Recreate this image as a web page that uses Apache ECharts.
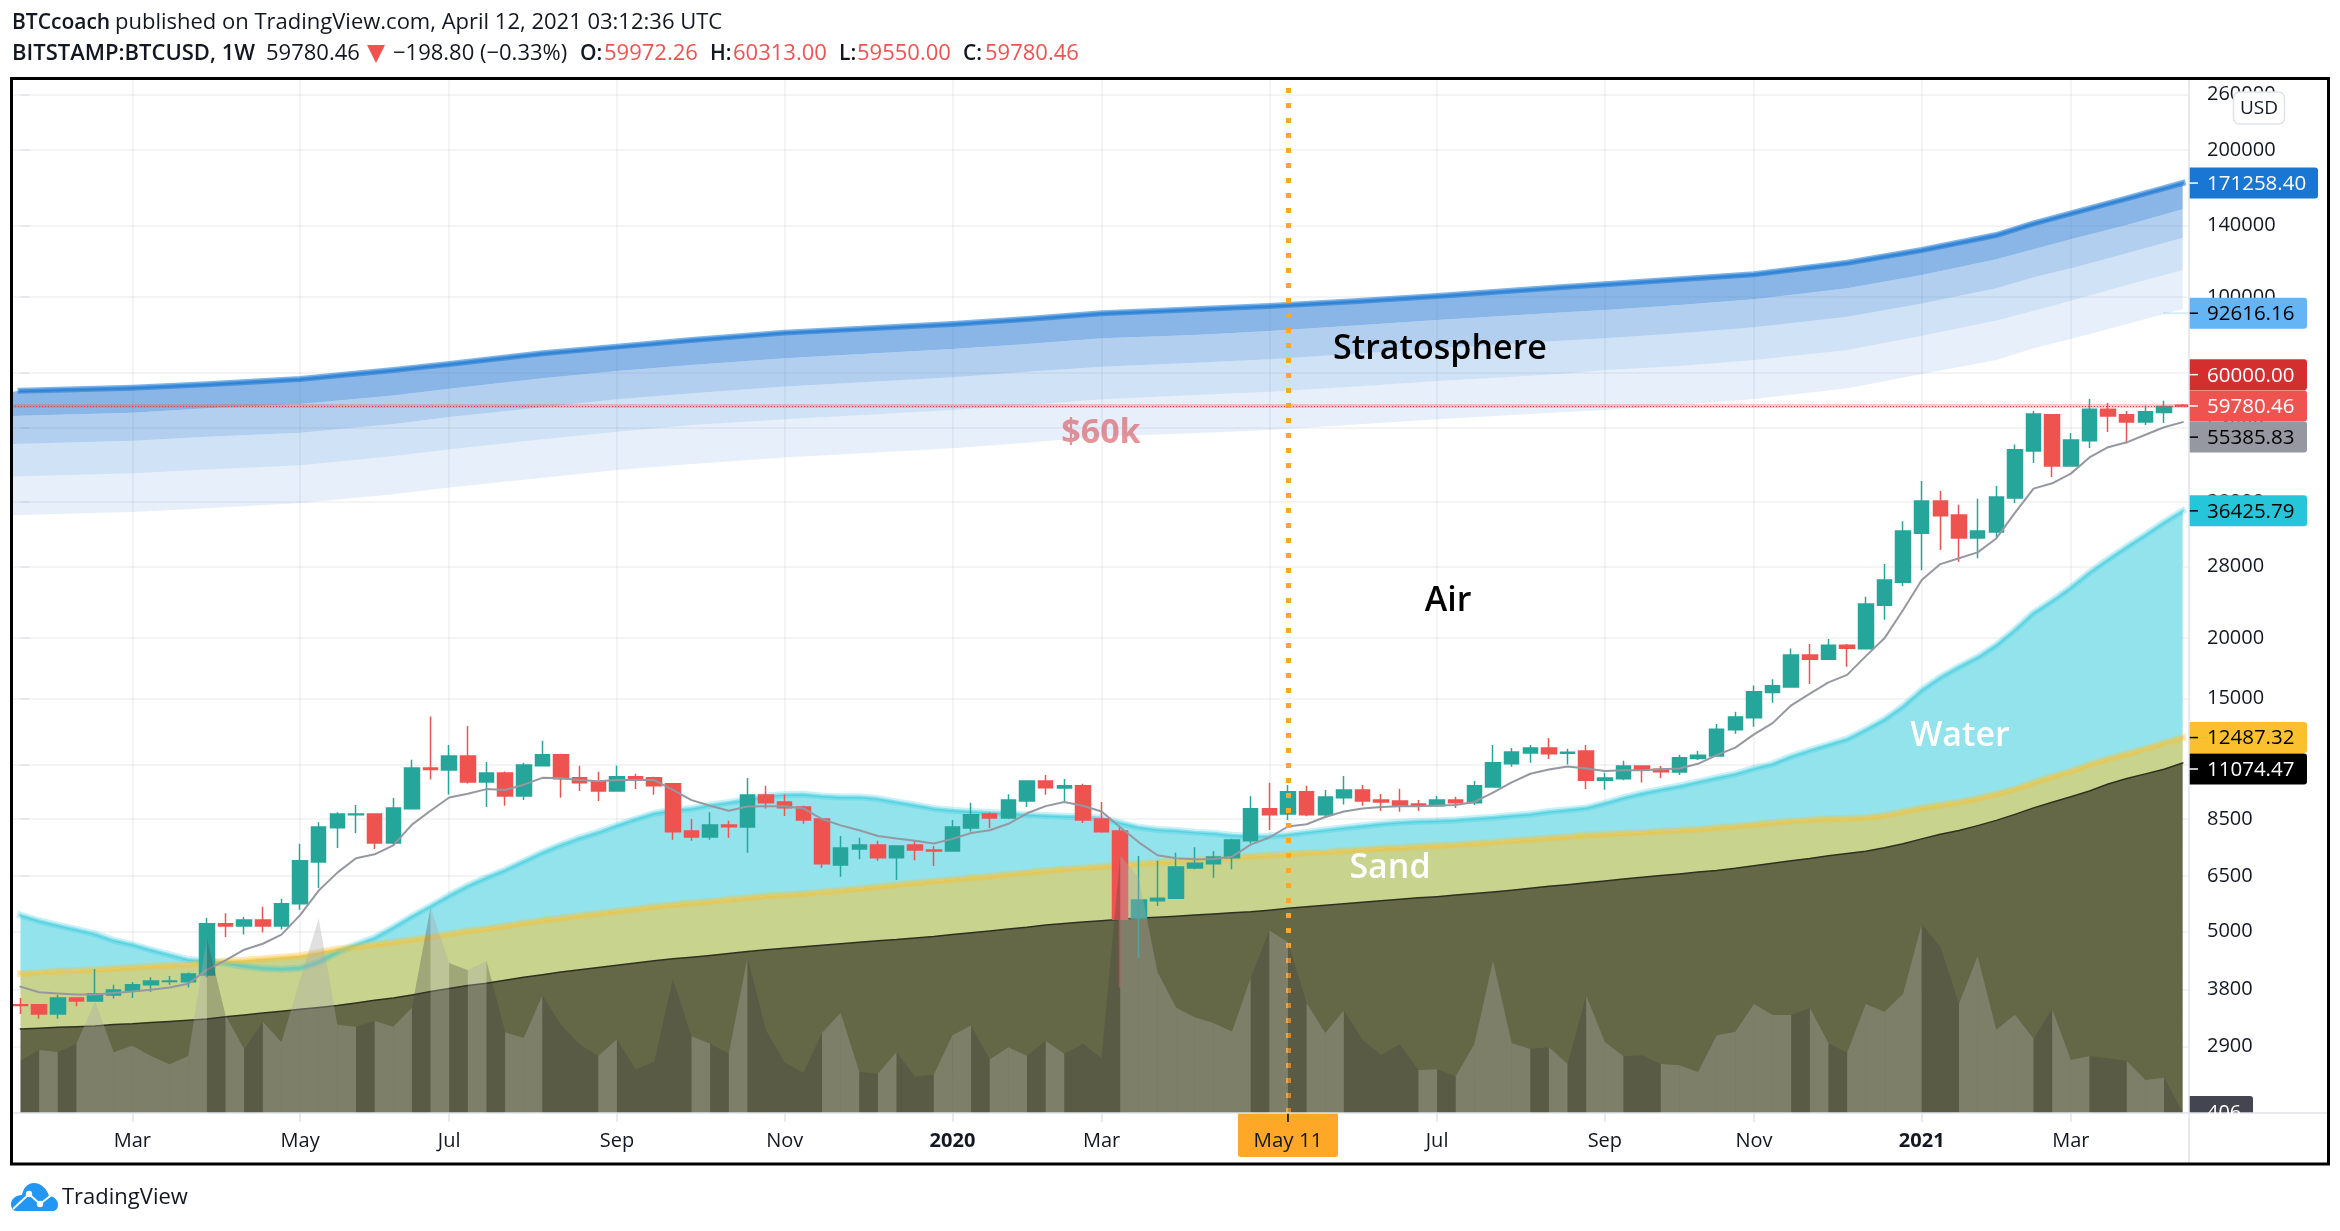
<!DOCTYPE html>
<html><head><meta charset="utf-8"><style>html,body{margin:0;padding:0;background:#fff}#c{width:2340px;height:1231px}</style>
<script src="https://cdn.jsdelivr.net/npm/echarts@6/dist/echarts.min.js"></script></head>
<body><div id="c"></div><script>
// Weekly candles: [open, close, low, high]
const candles=[
[3537,3525,3387,3650],[3537,3387,3310,3537],[3387,3650,3310,3703],[3650,3599,3512,3650],[3599,3723,3599,4187],[3703,3790,3640,3886],[3770,3886,3650,3935],[3886,3955,3756,4026],[3948,3955,3886,4050],[3941,4090,3838,4120],
[4070,5183,4026,5325],[5183,5128,4871,5448],[5128,5277,4925,5352],[5277,5128,4976,5617],[5128,5697,5047,5832],[5697,6980,5535,7560],[6940,8190,6140,8370],[8160,8700,7415,8780],[8670,8700,7960,9080],[8700,7590,7375,8733],
[7590,8955,7480,9390],[8920,10812,8905,11240],[10812,10735,10250,13790],[10720,11450,9545,12050],[11450,10120,10050,13195],[10120,10565,9000,11125],[10565,9478,9049,10640],[9478,10965,9295,11085],[10930,11510,10930,12295],[11510,10285,9395,11570],
[10325,10085,9700,10930],[10140,9700,9260,10620],[9700,10380,9700,10930],[10380,10215,9800,10530],[10325,9945,9530,10380],[10035,8005,7710,10035],[8030,7805,7670,8500],[7805,8260,7710,8780],[8260,8200,7780,8427],[8190,9525,7245,10320],
[9525,9180,8935,9945],[9213,8970,8625,9547],[9000,8460,8310,9049],[8500,6880,6745,8500],[6840,7415,6475,7848],[7375,7520,7030,7780],[7520,7080,6978,7670],[7080,7480,6370,7510],[7520,7345,7000,7670],[7345,7309,6806,7480],
[7309,8190,7309,8457],[8145,8670,8010,9178],[8700,8545,8145,8780],[8545,9295,8500,9560],[9260,10175,9000,10175],[10175,9855,9530,10470],[9840,9945,9245,10270],[9945,8457,8340,10035],[8500,8005,7965,9213],[8030,5295,3838,8175],
[5324,5800,4410,7140],[5780,5850,5635,6978],[5850,6780,5835,7245],[6745,6900,6705,7440],[6880,7105,6440,7309],[7080,7695,6705,7740],[7669,8920,7574,9470],[8920,8670,8075,10085],[8700,9665,8457,9980],[9665,8670,8610,9945],
[8670,9427,8545,9750],[9393,9750,9098,10415],[9750,9260,9049,9980],[9295,9213,8825,9565],[9260,9049,8795,9805],[9130,9049,8825,9295],[9049,9295,9049,9480],[9295,9180,8950,9445],[9180,9945,9080,10175],[9890,11085,9890,12050],
[11030,11670,10885,11880],[11610,11880,11085,12050],[11880,11570,11290,12467],[11593,11655,10990,11845],[11725,10205,9795,12055],[10205,10315,9760,10575],[10280,10915,10205,11190],[10915,10720,10095,10950],[10755,10630,10315,10915],[10610,11350,10465,11510],
[11310,11490,11235,11725],[11450,12995,11430,13320],[12950,13755,12720,14100],[13705,15500,13135,15975],[15440,15940,14720,16455],[15860,18450,15800,19020],[18450,18085,16080,19425],[18085,19320,18020,19880],[19320,19045,17455,19425],[19000,23460,18920,24270],
[23335,26290,21770,28330],[26010,33135,25530,34700],[32780,38140,27530,41950],[38140,35580,30290,40010],[35705,32030,28635,37500],[32030,33135,29130,38550],[32950,38895,32200,40950],[38695,48600,37800,49810],[48330,57530,45645,58355],[57330,45000,42720,57530],
[45000,50880,45000,52640],[50700,58880,49020,61750],[58880,57025,52830,60580],[57330,55415,50080,58355],[55415,58150,54630,59900],[57925,59630,55130,61260],[59972.26,59780.46,59550,60313]];
// Thin moving average
const sma=[3851,3750,3730,3710,3710,3736,3763,3797,3838,3906,4172,4362,4585,4717,4925,5400,6063,6600,7065,7195,7505,8280,8840,9410,9580,9790,9750,9997,10325,10305,10215,10160,10215,10215,10215,9750,9295,9049,8840,9017,9033,
9033,8937,8500,8250,8060,7848,7750,7670,7574,7740,7960,8060,8310,8733,9033,9213,9049,8810,8175,7615,7165,7065,7030,7040,7115,7530,7790,8205,8295,8580,8810,8937,9000,9033,9033,9065,9080,9213,9630,10105,10525,10735,
10890,10795,10665,10700,10700,10755,10795,11030,11490,11910,12675,13370,14540,15360,16200,16790,18345,19950,22800,26290,28330,29130,29940,31975,36090,40450,41480,43425,46880,49200,50345,52170,54050,55385.83];
// "Water" curve
const water=[5400,5258,5147,5047,4941,4794,4700,4585,4480,4377,4346,4300,4240,4195,4180,4202,4323,4535,4700,4855,5100,5370,5637,5925,6205,6450,6685,6965,7260,7530,7775,7990,8250,8500,8733,8860,8937,9080,9195,9325,9478,
9545,9560,9478,9427,9427,9360,9213,9080,8937,8860,8810,8765,8733,8670,8640,8610,8595,8545,8350,8175,8090,8050,7990,7950,7875,7835,7848,7905,7990,8075,8160,8235,8310,8370,8415,8427,8457,8520,8570,8640,8700,8810,
8880,8960,9165,9400,9600,9775,9935,10130,10330,10520,10795,11030,11430,11765,12080,12405,12970,13610,14485,15635,16610,17455,18250,19325,20785,22520,23835,25370,27240,28990,30745,32550,34520,36425.79];
// "Sand" curve
const sand=[4098,4120,4142,4157,4172,4195,4217,4240,4263,4277,4308,4346,4362,4393,4425,4456,4528,4601,4642,4700,4751,4808,4868,4941,5010,5065,5128,5200,5268,5324,5382,5440,5497,5555,5617,5670,5717,5758,5810,5860,5912,
5935,5970,6025,6065,6117,6175,6228,6283,6339,6385,6440,6487,6545,6603,6660,6710,6745,6795,6840,6880,6930,6965,7003,7040,7080,7130,7165,7205,7245,7270,7320,7360,7400,7425,7470,7505,7530,7574,7615,7670,7720,7770,
7820,7870,7910,7950,7980,8025,8065,8100,8155,8215,8270,8360,8420,8465,8510,8525,8555,8645,8800,8960,9085,9200,9365,9565,9790,10095,10385,10650,10990,11290,11555,11845,12170,12487.32];
// Lowest curve
const ground=[3155,3166,3178,3189,3200,3223,3234,3252,3269,3287,3305,3340,3370,3400,3430,3461,3492,3523,3567,3612,3650,3703,3763,3817,3872,3913,3970,4026,4076,4127,4172,4217,4263,4308,4354,4393,4425,4464,4504,4545,4585,
4618,4651,4685,4717,4751,4785,4810,4845,4880,4925,4968,5010,5056,5100,5155,5190,5228,5258,5295,5324,5343,5370,5400,5430,5460,5487,5527,5577,5617,5657,5697,5738,5780,5820,5860,5892,5935,5977,6025,6075,6130,6185,
6235,6290,6345,6400,6455,6510,6560,6620,6665,6735,6820,6895,6980,7055,7145,7220,7300,7420,7565,7740,7910,8050,8240,8445,8690,8960,9200,9445,9700,10025,10295,10520,10755,11074.47];
// Volume, thousands
const volume=[31.4,37.8,36.6,41.6,67,36.4,40.3,34.2,29.2,34.2,105,58.6,38.2,54.7,42.5,80.1,116.7,52.9,51.8,55.2,51.8,63.1,123.5,90,85.7,91.4,48.4,45,70.6,52.9,41.2,34.2,44.3,26.2,30.8,80.5,46.1,41.6,35.5,93.6,49.5,
30.3,24,48,60.2,24.7,23.5,36.6,21.7,23.1,46.6,52.5,32.1,39.4,34.4,43.2,35.5,41.6,33,154.7,141,84.6,63.1,57.5,54,48.9,81.2,109.5,102.7,66,48,61.5,43.9,34.8,41.2,25.8,26.2,
22,41.4,91.4,42,38.4,39.4,29.4,70.4,42.6,34,34.6,29.4,28.6,24.6,46.6,48.8,65.4,58.8,58.8,63,41.8,36.2,65.4,60.8,71.4,113.4,99.8,65.4,94.2,50,59,44.6,62.4,31.8,34.2,32.8,31.2,19.8,21.2,0.406];
// Stratosphere bands, sampled at these bar positions
const bandPos=[-0.456,0,6,10,15,20,23,28,32,36,41,50,54,58,63,67,72,76,82.6,85,89,93,98,102,106,108,110,113,116];
const band0=[63960,64260,65170,66210,67900,70850,72890,76650,79100,81630,84510,88025,90140,92580,94340,95840,98280,100470,104670,106150,108680,111280,117580,124830,133990,141590,148430,159330,171258.4];
const band1=[57010,57100,57920,59120,60340,62780,64870,68120,70510,72540,74870,78230,80100,82280,83570,85160,87620,89700,92880,94050,96290,98900,104180,110940,119440,125230,131280,140480,151260];
const band2=[49960,50030,50740,51710,52700,54900,56740,59400,61690,63460,65490,68440,70290,71970,73340,74500,76650,78470,81370,82270,84230,86640,91140,97020,104180,109730,114470,122900,132320];
const band3=[42820,42900,43500,44260,45170,47210,48720,51070,52950,54640,56130,58660,60060,61680,62950,63960,65690,67270,69520,70830,72180,74270,77840,83310,89440,93740,98280,105820,113610];
const band4=[35680,35740,36240,36870,37810,39400,40650,42610,44180,45460,46840,48935,50270,51720,52540,53370,54900,56130,58010,58650,60140,61780,64970,69500,74270,78460,81990,88020,94490];
const priceTicks=[260000,200000,140000,100000,70000,54000,38000,28000,20000,15000,11000,8500,6500,5000,3800,2900];
const timeTickPos=[6,15,23,32,41,50,58,67,76,85,93,102,110];
const timeTickText=['Mar','May','Jul','Sep','Nov','2020','Mar','May','Jul','Sep','Nov','2021','Mar'];
const cursorPos=68, cursorText='May 11';
const lastClose=59780.46, level=60000;
// Price tags: value, text, background, text colour, shift from the true level
const tagValues=[171258.40,92616.16,60000,59780.46,55385.83,36425.79,12487.32,11074.47];
const tagTexts=['171258.40','92616.16','60000.00','59780.46','55385.83','36425.79','12487.32','11074.47'];
const tagBack=['#1976d2','#64b5f6','#d32f2f','#ef5350','#9598a1','#26c6da','#fbc02d','#000000'];
const tagFore=['#ffffff','#000000','#ffffff','#ffffff','#000000','#000000','#000000','#ffffff'];
const tagShift=[0,0,-30.5,0,15,0,0,6];

const FONT='"Open Sans","Noto Sans",sans-serif';
const INK='#131722';
const n=candles.length;
const pairs=(xs,ys)=>xs.map((x,i)=>[x,ys[i]]);
const idx=candles.map((_,i)=>i);

function fillBetween(xs,upper,lower,color,z){
  return {type:'custom',coordinateSystem:'cartesian2d',clip:true,z,silent:true,animation:false,
    data:[[xs[0],upper[0]]],encode:{x:0,y:1},
    renderItem(p,api){
      const pts=[];
      xs.forEach((x,i)=>pts.push(api.coord([x,upper[i]])));
      for(let i=xs.length-1;i>=0;i--)pts.push(api.coord([xs[i],lower[i]]));
      return {type:'polygon',shape:{points:pts},style:{fill:color}};
    }};
}
function lineOf(xs,ys,width,color,z){
  return {type:'line',data:pairs(xs,ys),showSymbol:false,symbol:'none',smooth:false,z,silent:true,animation:false,clip:true,
    lineStyle:{width,color,cap:'square',join:'round'}};
}
const idxFloor=idx.map(()=>2121);
const waterTop=water.map((v,i)=>Math.max(v,sand[i]));
const series=[
  fillBetween(bandPos,band0,band1,'rgba(33,118,210,0.53)',1),
  fillBetween(bandPos,band1,band2,'rgba(33,118,210,0.35)',1),
  fillBetween(bandPos,band2,band3,'rgba(33,118,210,0.21)',1),
  fillBetween(bandPos,band3,band4,'rgba(33,118,210,0.115)',1),
  fillBetween(idx,waterTop,sand,'#92e3ec',1),
  fillBetween(idx,sand,ground,'#c8d38d',1),
  fillBetween(idx,ground,idxFloor,'#646846',1),
  lineOf(bandPos.slice(1),band0.slice(1),6,'rgba(25,118,210,0.55)',2),
  lineOf(bandPos.slice(1),band0.slice(1),3,'rgba(25,118,210,0.6)',2),
  lineOf([115,116.3],[92616.16,92616.16],2,'rgba(100,181,246,0.25)',2),
  lineOf(idx,water,7,'rgba(38,198,218,0.25)',2),
  lineOf(idx,water,3,'rgba(38,198,218,0.4)',2),
  lineOf(idx,sand,7,'rgba(251,192,45,0.35)',2),
  lineOf(idx,sand,3,'rgba(251,192,45,0.4)',2),
  lineOf(idx,ground,1.5,'#2e3120',2),
  {type:'candlestick',data:candles.map((c,i)=>[i,c[0],c[1],c[2],c[3]]),encode:{x:0,y:[1,2,3,4]},barWidth:15,z:3,animation:false,silent:true,clip:true,
    itemStyle:{color:'#26a69a',color0:'#ef5350',borderColor:'#26a69a',borderColor0:'#ef5350',borderWidth:1.5}},
  lineOf(idx,sma,2,'#9598a1',4),
  {type:'custom',coordinateSystem:'cartesian2d',yAxisIndex:1,clip:true,z:5,silent:true,animation:false,
    data:idx.slice(0,n-1).map(i=>[i,volume[i]]),encode:{x:0,y:1},
    renderItem(p,api){
      const i=p.dataIndex, up=candles[i+1][1]>=candles[i+1][0];
      const a=api.coord([i,volume[i]]),b=api.coord([i+1,volume[i+1]]),c=api.coord([i+1,0]),d=api.coord([i,0]);
      return {type:'polygon',shape:{points:[a,b,c,d]},style:{fill:up?'rgba(170,170,170,0.36)':'rgba(67,64,70,0.3)'}};
    }},
  {type:'line',data:[],z:6,silent:true,animation:false,
    markLine:{silent:true,symbol:'none',animation:false,label:{show:false},data:[{yAxis:lastClose}],lineStyle:{type:'solid',width:4,color:'rgba(239,83,80,0.3)'}}},
  {type:'line',data:[],z:6,silent:true,animation:false,
    markLine:{silent:true,symbol:'none',animation:false,label:{show:false},data:[{yAxis:lastClose}],lineStyle:{type:[1,2],width:1,color:'#ef3b38'}}},
  {type:'line',data:[],z:7,silent:true,animation:false,
    markLine:{silent:true,symbol:'none',animation:false,label:{show:false},data:[{xAxis:cursorPos}],lineStyle:{type:[5,10],width:5,color:'#ffa726'}}},
  // price tags in the right hand scale
  {type:'custom',coordinateSystem:'cartesian2d',clip:false,z:10,silent:true,animation:false,
    data:tagValues.map(v=>[116,v]),encode:{x:0,y:1},
    renderItem(p,api){
      const i=p.dataIndex, y=api.coord([116,tagValues[i]])[1]+tagShift[i], w=tagTexts[i].length>8?129:118;
      return {type:'group',children:[
        {type:'rect',shape:{x:2189,y:y-15.5,width:w,height:31,r:[0,3,3,0]},style:{fill:tagBack[i]}},
        {type:'rect',shape:{x:2189,y:y-0.75,width:9,height:1.5},style:{fill:tagFore[i]}},
        {type:'text',style:{x:2207,y:y+1,text:tagTexts[i],fill:tagFore[i],font:'20.5px '+FONT,textAlign:'left',textVerticalAlign:'middle'}}
      ]};
    }},
  // time cursor tag
  {type:'custom',coordinateSystem:'cartesian2d',clip:false,z:10,silent:true,animation:false,
    data:[[cursorPos,2121]],encode:{x:0,y:1},
    renderItem(p,api){
      const c=api.coord([cursorPos,2121]);
      return {type:'group',children:[
        {type:'rect',shape:{x:c[0]-50,y:c[1],width:100,height:44,r:[0,0,3,3]},style:{fill:'#ffa726'}},
        {type:'rect',shape:{x:c[0]-0.75,y:c[1],width:1.5,height:9},style:{fill:'#000'}},
        {type:'text',style:{x:c[0],y:c[1]+28,text:cursorText,fill:INK,font:'20.5px '+FONT,textAlign:'center',textVerticalAlign:'middle'}}
      ]};
    }},
  // brand mark
  {type:'custom',coordinateSystem:'cartesian2d',clip:false,z:10,silent:true,animation:false,
    data:[[0,2121]],encode:{x:0,y:1},
    renderItem(){
      return {type:'group',children:[
        {type:'path',shape:{pathData:'M5 28 L42 28 C47 28 48 21 46 18 C44 14 40 13 38 13 C36 6 30 0 23 0 C16 0 12 6 11 12 C5 12 0 16 0 21 C0 25 2 28 5 28 Z',x:11,y:1183,width:47,height:28},style:{fill:'#2196f3'}},
        {type:'polyline',shape:{points:[[13,1209],[29,1194],[40,1204],[54,1193]]},style:{stroke:'#fff',lineWidth:2,fill:'none'}},
        {type:'circle',shape:{cx:29,cy:1194,r:3.2},style:{fill:'#fff'}},
        {type:'circle',shape:{cx:40,cy:1204,r:3.2},style:{fill:'#fff'}}
      ]};
    }}
];
const T=(x,y,text,o={},z=100)=>({type:'text',x,y,z,silent:true,style:Object.assign({text,fill:INK,font:'22px '+FONT,textVerticalAlign:'middle',textAlign:'left'},o)});
const RED='#ef5350';
const chart=echarts.init(document.getElementById('c'),null,{renderer:'canvas',width:2340,height:1231});
chart.setOption({
  animation:false,backgroundColor:'#fff',
  grid:{left:12,right:151,top:80,bottom:118,containLabel:false},
  xAxis:{type:'value',min:-0.456,max:116.34,axisLine:{show:false},
    axisTick:{show:true,length:9,customValues:timeTickPos,lineStyle:{color:'#e0e3eb',width:1.5}},
    splitLine:{show:true,lineStyle:{color:'rgba(42,46,57,0.07)',width:1.5}},
    axisLabel:{show:true,customValues:timeTickPos,margin:18,fontFamily:FONT,fontSize:20,color:INK,hideOverlap:false,showMinLabel:true,showMaxLabel:true,
      formatter:v=>{const t=timeTickText[timeTickPos.indexOf(Math.round(v))]||'';return /^\d+$/.test(t)?'{b|'+t+'}':t;},
      rich:{b:{fontFamily:FONT,fontSize:20,fontWeight:'bold',color:INK}}}},
  yAxis:[{type:'log',logBase:10,min:2121,max:278600,position:'right',axisLine:{show:false},
    axisTick:{show:true,length:9,customValues:priceTicks,lineStyle:{color:'#e0e3eb',width:1.5}},
    splitLine:{show:true,lineStyle:{color:'rgba(42,46,57,0.07)',width:1.5}},minorTick:{show:false},
    axisLabel:{show:true,customValues:priceTicks,margin:18,fontFamily:FONT,fontSize:20,color:INK,hideOverlap:false,padding:[3,0,0,0],formatter:v=>String(Math.round(v))}},
    {type:'value',min:0,max:620,show:false,splitLine:{show:false}}],
  series,
  graphic:[
    T(12,23,'BTCcoach',{font:'600 21px '+FONT}),T(115,23,'published on TradingView.com, April 12, 2021 03:12:36 UTC'),
    T(12,54,'BITSTAMP:BTCUSD, 1W',{font:'600 22px '+FONT}),T(266,54,'59780.46'),
    {type:'polygon',z:100,silent:true,shape:{points:[[367,45],[385,45],[376,63]]},style:{fill:RED}},
    T(393,54,'\u2212198.80 (\u22120.33%)'),
    T(580,54,'O:',{font:'600 21px '+FONT}),T(604,54,'59972.26',{fill:RED}),
    T(710,54,'H:',{font:'600 21px '+FONT}),T(733,54,'60313.00',{fill:RED}),
    T(839,54,'L:',{font:'600 21px '+FONT}),T(857,54,'59550.00',{fill:RED}),
    T(963,54,'C:',{font:'600 21px '+FONT}),T(985,54,'59780.46',{fill:RED}),
    T(1440,349,'Stratosphere',{font:'600 34px '+FONT,textAlign:'center',fill:'#000'}),
    T(1101,433,'$60k',{font:'bold 34px '+FONT,textAlign:'center',fill:'rgba(216,90,100,0.65)'}),
    T(1448,601,'Air',{font:'600 34px '+FONT,textAlign:'center',fill:'#000'}),
    T(1960,736,'Water',{font:'600 34px '+FONT,textAlign:'center',fill:'#fff'}),
    T(1390,868,'Sand',{font:'600 34px '+FONT,textAlign:'center',fill:'#fff'}),
    {type:'line',z:99,silent:true,shape:{x1:12,y1:1113,x2:2328,y2:1113},style:{stroke:'#e0e3eb',lineWidth:1.5}},
    {type:'line',z:99,silent:true,shape:{x1:2189,y1:80,x2:2189,y2:1163},style:{stroke:'#e0e3eb',lineWidth:1.5}},
    {type:'rect',z:98,silent:true,shape:{x:2189,y:1096,width:64,height:17,r:[0,3,0,0]},style:{fill:'#434651'}},
    T(2207,1113,'406',{font:'20px '+FONT,fill:'#fff'}),
    {type:'rect',z:100.5,silent:true,shape:{x:2190,y:1114,width:70,height:12},style:{fill:'#fff'}},
    {type:'rect',z:101,silent:true,shape:{x:2233.5,y:92,width:51,height:32,r:6},style:{fill:'#fff',stroke:'#e0e3eb',lineWidth:1.5}},
    T(2259,109,'USD',{textAlign:'center',font:'19px '+FONT},102),
    {type:'rect',z:103,silent:true,shape:{x:11.5,y:78.5,width:2317,height:1085.5},style:{fill:'none',stroke:'#000',lineWidth:3}},
    T(62,1198,'TradingView',{font:'22px '+FONT})
  ]
});
</script></body></html>
